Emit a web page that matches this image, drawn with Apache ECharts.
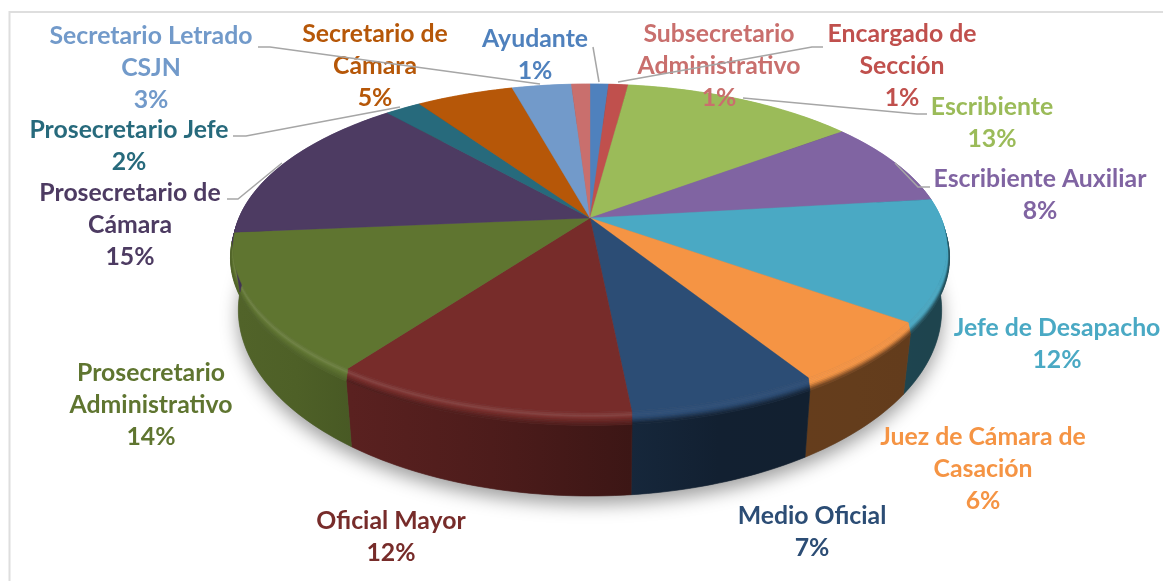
<!DOCTYPE html>
<html>
<head>
<meta charset="utf-8">
<style>html,body{margin:0;padding:0;background:#fff}#c{width:1163px;height:581px}</style>
<script src="https://cdn.jsdelivr.net/npm/echarts@6/dist/echarts.min.js"></script>
</head>
<body>
<div id="c"></div>
<script>
// Data (clockwise from 12 o'clock); shares read from the slice boundaries
const categories = ['Ayudante','Encargado de Sección','Escribiente','Escribiente Auxiliar','Jefe de Desapacho','Juez de Cámara de Casación','Medio Oficial','Oficial Mayor','Prosecretario Administrativo','Prosecretario de Cámara','Prosecretario Jefe','Secretario de Cámara','Secretario Letrado CSJN','Subsecretario Administrativo'];
const values = [1,1.05,12.62,8.43,11.9,6.2,7.25,11.55,13.6,15,1.95,5.25,3.2,1];
const colors = ['#4f81bd','#c0504d','#9bbb59','#8064a2','#4aa9c4','#f59444','#2c4d75','#772c2a','#5f7530','#4d3b62','#276a7c','#b65708','#729aca','#c96f6d'];

// Label layout, separate from the data
const labelLines = [['Ayudante'],['Encargado de','Sección'],['Escribiente'],['Escribiente Auxiliar'],['Jefe de Desapacho'],['Juez de Cámara de','Casación'],['Medio Oficial'],['Oficial Mayor'],['Prosecretario','Administrativo'],['Prosecretario de','Cámara'],['Prosecretario Jefe'],['Secretario de','Cámara'],['Secretario Letrado','CSJN'],['Subsecretario','Administrativo']];
const labelCenters = [[535,55],[902,66],[992,123],[1040,195],[1057,344],[983,469],[812,532],[391,537],[151,405],[130,225],[129,146],[375,66],[151,68],[719,66]];
const leaderLines = [
  [[593,47],[599,82]], null,
  [[743,98],[917,114],[927,114]],
  [[895,163],[918,187],[930,187]],
  null,null,null,null,null,
  [[227,199],[238,199],[282,163]],
  [[233,136],[246,136],[400,107]],
  null,
  [[258,47],[270,47],[540,84]],
  [[618,82],[812,47],[823,47]]
];

// Perspective disc geometry
const cx = 590, cy = 218, RX = 351, RY = 158.5, K = 0.183;
const F_BEVEL = 0.16;
const total = values.reduce((a,b)=>a+b,0);
function angles(i){
  let s = 0; for (let j=0;j<i;j++) s += values[j];
  return [s/total*Math.PI*2, (s+values[i])/total*Math.PI*2];
}
function proj(t, f){
  const u = Math.sin(t), v = -Math.cos(t), d = 1 - K*v;
  const X = RX*u/d, Y = RY*v/d;
  const sx = f<F_BEVEL ? 1+0.007*f/F_BEVEL : 1.007-(f-F_BEVEL)/(1-F_BEVEL)*0.022;
  return [cx + X*sx, cy + Y + f*(58+0.134*Y)];
}
function arc(a,b,f){
  const n = Math.max(2, Math.ceil((b-a)/0.02)), p=[];
  for (let i=0;i<=n;i++) p.push(proj(a+(b-a)*i/n, f));
  return p;
}
function hex(c){return [1,3,5].map(i=>parseInt(c.substr(i,2),16));}
function rgb(a){return 'rgb('+a.map(x=>Math.round(Math.max(0,Math.min(255,x)))).join(',')+')';}
function scale(c,k){return hex(c).map(x=>x*k);}
function mix(a,b,w){return a.map((x,i)=>x+(b[i]-x)*w);}
function wallFactor(t){
  const u = Math.sin(t);
  const pts=[[-1,.85],[-.59,.76],[0,.55],[.3,.42],[1,.40]];
  for(let i=1;i<pts.length;i++) if(u<=pts[i][0]){
    const w=(u-pts[i-1][0])/(pts[i][0]-pts[i-1][0]);
    return pts[i-1][1]+(pts[i][1]-pts[i-1][1])*w;
  }
  return .4;
}
function bevelColor(c,t,f){
  const amount = Math.sin(t)<0 ? 0.11 : 0.02;
  const top = hex(c), hi = mix(top,[255,255,255],amount), wall = scale(c,wallFactor(t));
  const x = f/F_BEVEL;
  if (x<0.3) return mix(top,hi,x/0.3);
  if (x<0.5) return mix(hi,top,(x-0.3)/0.2);
  return mix(top,wall,(x-0.5)/0.5);
}
function renderWall(params){
  const i = params.dataIndex, [a,b] = angles(i), c = colors[i], kids=[];
  if (i===0){
    kids.push({type:'polygon',shape:{points:arc(0,Math.PI*2,1)},
      style:{fill:'#777',shadowBlur:18,shadowColor:'rgba(0,0,0,0.38)',shadowOffsetY:8}});
  }
  const m=(a+b)/2, lo=scale(c,wallFactor(a)), mid=scale(c,wallFactor(m)), hi=scale(c,wallFactor(b));
  const xa=proj(a,1)[0], xb=proj(b,1)[0];
  const leftFirst = xa<xb;
  const grad = new echarts.graphic.LinearGradient(Math.min(xa,xb),0,Math.max(xa,xb)+1,0,[
    {offset:0,color:rgb(leftFirst?lo:hi)},{offset:.5,color:rgb(mid)},{offset:1,color:rgb(leftFirst?hi:lo)}],true);
  const wallPts = arc(a,b,F_BEVEL).concat(arc(a,b,1).reverse());
  kids.push({type:'polygon',shape:{points:wallPts},style:{fill:grad,stroke:grad,lineWidth:.6}});
  const N=8;
  for(let k=0;k<N;k++){
    const f1=F_BEVEL*k/N,f2=F_BEVEL*(k+1)/N;
    const pts=arc(a,b,f1).concat(arc(a,b,f2).reverse());
    const col=rgb(bevelColor(c,m,(f1+f2)/2));
    kids.push({type:'polygon',shape:{points:pts},style:{fill:col,stroke:col,lineWidth:.6}});
  }
  return {type:'group',children:kids};
}
function renderTop(params){
  const i=params.dataIndex,[a,b]=angles(i);
  const pts=[[cx,cy]].concat(arc(a,b,0));
  return {type:'polygon',shape:{points:pts},style:{fill:colors[i],stroke:colors[i],lineWidth:.4}};
}
function renderLabel(params,api){
  const i=params.dataIndex, kids=[];
  const text=labelLines[i].concat([Math.round(api.value(0)/total*100)+'%']).join('\n');
  kids.push({type:'text',style:{x:labelCenters[i][0],y:labelCenters[i][1],text:text,fill:colors[i],
    font:'bold 24.8px Lato, Carlito, sans-serif',lineHeight:32.4,align:'center',verticalAlign:'middle'}});
  if(leaderLines[i]) kids.push({type:'polyline',shape:{points:leaderLines[i]},style:{stroke:'#a6a6a6',lineWidth:1.5,fill:null}});
  return {type:'group',children:kids};
}
const chart = echarts.init(document.getElementById('c'),null,{renderer:'canvas'});
const seriesData = values.map((v,i)=>({name:categories[i],value:[v]}));
chart.setOption({
  animation:false,
  backgroundColor:'#fff',
  graphic:[{type:'polyline',z:0,shape:{points:[[9.5,581],[9.5,12],[1163,12]]},style:{stroke:'#dedede',lineWidth:2,fill:null}}],
  series:[
    {type:'custom',coordinateSystem:'none',renderItem:renderWall,data:seriesData,z:1,silent:true},
    {type:'custom',coordinateSystem:'none',renderItem:renderTop,data:seriesData,z:2,silent:true},
    {type:'custom',coordinateSystem:'none',renderItem:renderLabel,data:seriesData,z:3,silent:true}
  ]
});
</script>
</body>
</html>
